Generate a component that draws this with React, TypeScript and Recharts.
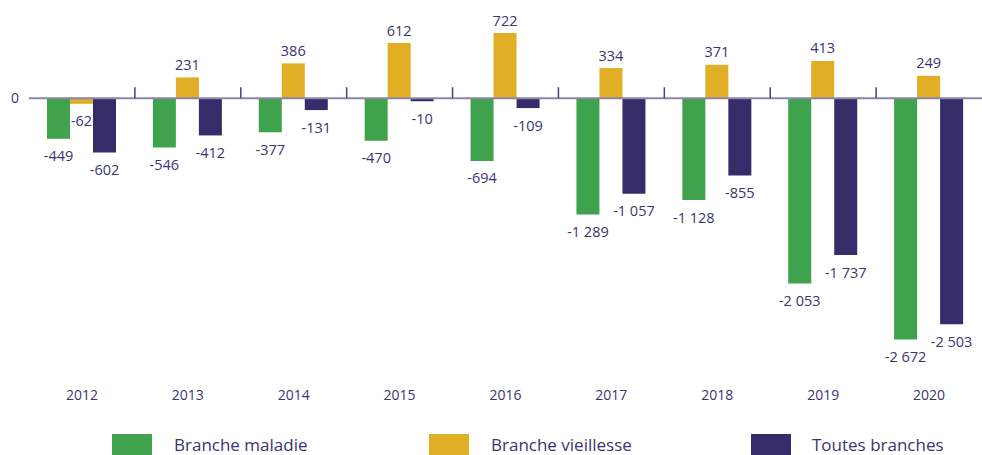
import React from 'react';
import { BarChart, Bar, XAxis, YAxis, ReferenceLine, LabelList } from 'recharts';

const years = ['2012', '2013', '2014', '2015', '2016', '2017', '2018', '2019', '2020'];
const maladie = [-449, -546, -377, -470, -694, -1289, -1128, -2053, -2672];
const vieillesse = [-62, 231, 386, 612, 722, 334, 371, 413, 249];
const toutes = [-602, -412, -131, -10, -109, -1057, -855, -1737, -2503];

const seriesNames = ['Branche maladie', 'Branche vieillesse', 'Toutes branches'];
const colors = ['#3fa34d', '#e0af25', '#372c6a'];
const textColor = '#3b3470';
const FONT = '"Open Sans", sans-serif';

const data = years.map((y, i) => ({
  year: y,
  maladie: maladie[i],
  vieillesse: vieillesse[i],
  toutes: toutes[i],
}));

const fmt = (v: number) => {
  const s = Math.abs(v).toString().replace(/\B(?=(\d{3})+(?!\d))/g, ' ');
  return (v < 0 ? '-' : '') + s;
};

const ValueLabel = (props: any) => {
  const { x, y, width, height, value } = props;
  const top = Math.min(y, y + height);
  const bottom = Math.max(y, y + height);
  const cx = x + width / 2;
  const ty = value >= 0 ? top - 13 : bottom + 17;
  return (
    <text x={cx} y={ty} textAnchor="middle" dominantBaseline="central" fill={textColor} fontSize={14.5} fontFamily={FONT}>
      {fmt(value)}
    </text>
  );
};

export default function App() {
  return (
    <div style={{ position: 'absolute', left: 0, top: 0, width: 982, height: 455, background: '#fff', overflow: 'hidden' }}>
      <BarChart
        width={982}
        height={455}
        data={data}
        margin={{ top: 8, right: 0, left: 0, bottom: 46 }}
        barCategoryGap="17%"
        barGap={0}
      >
        <XAxis
          dataKey="year"
          axisLine={false}
          tickLine={false}
          tickSize={0}
          tickMargin={21}
          height={40}
          tick={{ fill: textColor, fontSize: 14, fontFamily: FONT }}
        />
        <YAxis
          domain={[-3000, 1000]}
          ticks={[0]}
          width={29}
          axisLine={false}
          tickLine={false}
          tickSize={8}
          tickMargin={2}
          tick={{ fill: textColor, fontSize: 14, fontFamily: FONT }}
        />
        <Bar dataKey="maladie" name={seriesNames[0]} fill={colors[0]} minPointSize={3} isAnimationActive={false}>
          <LabelList dataKey="maladie" content={ValueLabel} />
        </Bar>
        <Bar dataKey="vieillesse" name={seriesNames[1]} fill={colors[1]} minPointSize={3} isAnimationActive={false}>
          <LabelList dataKey="vieillesse" content={ValueLabel} />
        </Bar>
        <Bar dataKey="toutes" name={seriesNames[2]} fill={colors[2]} minPointSize={3} isAnimationActive={false}>
          <LabelList dataKey="toutes" content={ValueLabel} />
        </Bar>
        <ReferenceLine y={0} stroke="#8c86a8" strokeWidth={2} />
        {years.slice(1).map((y) => (
          <ReferenceLine
            key={y}
            position="start"
            segment={[{ x: y, y: 0 }, { x: y, y: 122 }]}
            stroke="#4a4278"
            strokeWidth={1.5}
          />
        ))}
      </BarChart>
      {seriesNames.map((n, i) => (
        <React.Fragment key={n}>
          <div style={{ position: 'absolute', left: [112, 429, 751][i], top: 434, width: 40, height: 24, background: colors[i] }} />
          <div
            style={{
              position: 'absolute',
              left: [174, 491, 812][i],
              top: 433,
              height: 24,
              lineHeight: '24px',
              fontSize: 17,
              fontFamily: FONT,
              color: textColor,
              whiteSpace: 'nowrap',
            }}
          >
            {n}
          </div>
        </React.Fragment>
      ))}
    </div>
  );
}
